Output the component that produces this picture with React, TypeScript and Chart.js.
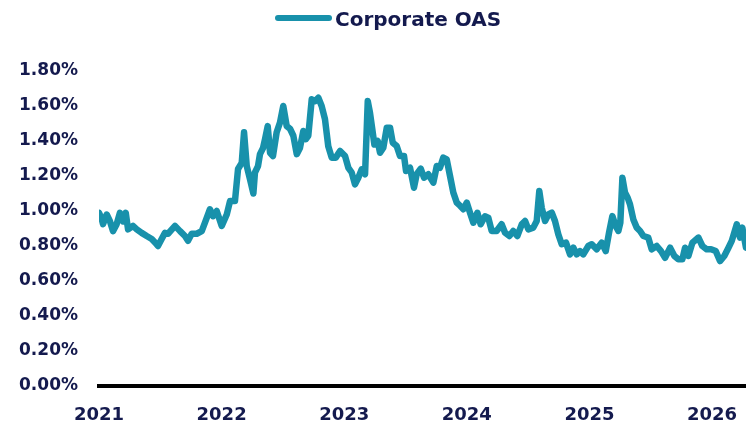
import React, { useEffect, useRef } from "react";
import { Chart, registerables } from "chart.js";

Chart.register(...registerables);

const seriesLabel = "Corporate OAS";

// decimal years
const years = [
  2021.000, 2021.022, 2021.033, 2021.063, 2021.090, 2021.114, 2021.144, 2021.171, 2021.196, 2021.218,
  2021.237, 2021.277, 2021.308, 2021.348, 2021.389, 2021.430, 2021.457, 2021.481, 2021.511, 2021.538,
  2021.563, 2021.620, 2021.661, 2021.701, 2021.726, 2021.756, 2021.797, 2021.838, 2021.865, 2021.905,
  2021.930,
  2021.960, 2022.001, 2022.042, 2022.069, 2022.109, 2022.134, 2022.164, 2022.183, 2022.205, 2022.232,
  2022.259, 2022.272, 2022.297, 2022.313, 2022.338, 2022.354, 2022.376, 2022.395, 2022.419, 2022.449,
  2022.476, 2022.503, 2022.531, 2022.558, 2022.585, 2022.613, 2022.639, 2022.666, 2022.686, 2022.707,
  2022.735, 2022.762, 2022.789, 2022.816, 2022.843, 2022.870, 2022.898, 2022.931,
  2022.966, 2023.007, 2023.034, 2023.061, 2023.088, 2023.115, 2023.143, 2023.170, 2023.192, 2023.210,
  2023.229, 2023.246, 2023.273, 2023.292, 2023.319, 2023.347, 2023.374, 2023.396, 2023.428, 2023.455,
  2023.488, 2023.504, 2023.537, 2023.569, 2023.591, 2023.624, 2023.651, 2023.686, 2023.727, 2023.755,
  2023.781, 2023.808, 2023.836, 2023.863, 2023.890, 2023.918, 2023.945, 2023.972,
  2024.000, 2024.026, 2024.053, 2024.086, 2024.113, 2024.148, 2024.175, 2024.203, 2024.243, 2024.284,
  2024.312, 2024.347, 2024.379, 2024.412, 2024.448, 2024.475, 2024.502, 2024.542, 2024.570, 2024.591,
  2024.611, 2024.638, 2024.665, 2024.693, 2024.719, 2024.746, 2024.774, 2024.809, 2024.842, 2024.869,
  2024.896, 2024.923, 2024.950, 2024.991,
  2025.019, 2025.059, 2025.100, 2025.133, 2025.160, 2025.187, 2025.214, 2025.236, 2025.252, 2025.269,
  2025.290, 2025.312, 2025.331, 2025.358, 2025.386, 2025.413, 2025.440, 2025.480, 2025.508, 2025.549,
  2025.584, 2025.617, 2025.658, 2025.693, 2025.725, 2025.758, 2025.780, 2025.807, 2025.840, 2025.889,
  2025.921, 2025.957, 2025.992, 2026.030, 2026.065, 2026.100, 2026.134, 2026.161, 2026.202, 2026.228,
  2026.247, 2026.277,
];

// OAS in percent
const oasValues = [
  0.99, 0.955, 0.925, 0.98, 0.94, 0.885, 0.925, 0.99, 0.94, 0.99,
  0.895, 0.915, 0.895, 0.875, 0.857, 0.84, 0.82, 0.80, 0.84, 0.875,
  0.87, 0.915, 0.885, 0.857, 0.83, 0.87, 0.87, 0.885, 0.935, 1.01,
  0.97,
  1.00, 0.915, 0.98, 1.057, 1.057, 1.24, 1.275, 1.45, 1.257, 1.18,
  1.10, 1.22, 1.257, 1.325, 1.36, 1.41, 1.485, 1.333, 1.314, 1.45,
  1.505, 1.60, 1.485, 1.47, 1.43, 1.325, 1.36, 1.457, 1.41, 1.43,
  1.638, 1.628, 1.647, 1.60, 1.525, 1.37, 1.305, 1.305,
  1.343, 1.314, 1.247, 1.22, 1.152, 1.19, 1.238, 1.21, 1.628, 1.562,
  1.467, 1.38, 1.40, 1.333, 1.362, 1.476, 1.476, 1.39, 1.371, 1.314,
  1.314, 1.229, 1.247, 1.133, 1.21, 1.242, 1.19, 1.21, 1.162, 1.257,
  1.247, 1.305, 1.295, 1.20, 1.105, 1.048, 1.03, 1.01,
  1.048, 0.99, 0.933, 0.99, 0.924, 0.97, 0.962, 0.886, 0.886, 0.924,
  0.876, 0.857, 0.886, 0.857, 0.924, 0.943, 0.895, 0.905, 0.943, 1.114,
  1.019, 0.943, 0.98, 0.99, 0.943, 0.867, 0.81, 0.819, 0.752, 0.79,
  0.752, 0.771, 0.752, 0.80,
  0.81, 0.781, 0.819, 0.771, 0.876, 0.971, 0.914, 0.886, 0.933, 1.19,
  1.105, 1.076, 1.038, 0.952, 0.905, 0.886, 0.857, 0.848, 0.781, 0.80,
  0.771, 0.733, 0.79, 0.743, 0.724, 0.724, 0.79, 0.743, 0.819, 0.848,
  0.80, 0.781, 0.781, 0.771, 0.714, 0.743, 0.79, 0.829, 0.924, 0.848,
  0.905, 0.79,
];

const yearTicks = [2021, 2022, 2023, 2024, 2025, 2026];
const yMin = 0;
const yMax = 1.8;
const yStep = 0.2;

const LINE_COLOR = "#1891ab";
const NAVY = "#141a4e";
const FONT = "'DejaVu Sans', sans-serif";

const legendPlugin = {
  id: "customLegend",
  afterDraw(chart: any) {
    const ctx = chart.ctx;
    const ds = chart.data.datasets[0];
    ctx.save();
    ctx.strokeStyle = ds.borderColor;
    ctx.lineWidth = 6;
    ctx.lineCap = "round";
    ctx.beginPath();
    ctx.moveTo(278, 18);
    ctx.lineTo(329, 18);
    ctx.stroke();
    ctx.font = `bold 20px ${FONT}`;
    ctx.fillStyle = NAVY;
    ctx.textAlign = "left";
    ctx.textBaseline = "alphabetic";
    ctx.fillText(ds.label, 335, 26);
    ctx.restore();
  },
};

export default function App() {
  const ref = useRef<HTMLCanvasElement | null>(null);

  useEffect(() => {
    if (!ref.current) return;
    const chart = new Chart(ref.current, {
      type: "line",
      data: {
        datasets: [
          {
            label: seriesLabel,
            data: years.map((x, i) => ({ x, y: oasValues[i] })),
            borderColor: LINE_COLOR,
            backgroundColor: LINE_COLOR,
            borderWidth: 6.5,
            pointRadius: 0,
            tension: 0,
            borderJoinStyle: "round",
            borderCapStyle: "round",
            fill: false,
          },
        ],
      },
      options: {
        animation: false,
        responsive: false,
        devicePixelRatio: 1,
        layout: { padding: { top: 71, right: 0, bottom: 2, left: 0 } },
        plugins: {
          legend: { display: false },
          tooltip: { enabled: false },
        },
        scales: {
          x: {
            type: "linear",
            min: years[0],
            max: years[years.length - 1],
            grid: { display: false, drawTicks: false },
            border: { display: true, color: "#000000", width: 4 },
            afterBuildTicks: (s: any) => {
              s.ticks = yearTicks.map((v) => ({ value: v }));
            },
            afterFit: (s: any) => {
              s.height = 38;
              s.paddingLeft = 0;
              s.paddingRight = 0;
            },
            ticks: {
              padding: 20,
              color: NAVY,
              font: { family: FONT, size: 18, weight: "bold", lineHeight: 1 },
              maxRotation: 0,
              autoSkip: false,
              callback: (v: any) => String(v),
            },
          },
          y: {
            min: yMin,
            max: yMax,
            grid: { display: false, drawTicks: false },
            border: { display: false },
            afterFit: (s: any) => {
              s.width = 99;
              s.paddingTop = 0;
              s.paddingBottom = 0;
            },
            ticks: {
              stepSize: yStep,
              padding: 21,
              color: NAVY,
              font: { family: FONT, size: 17, weight: "bold" },
              callback: (v: any) => Number(v).toFixed(2) + "%",
            },
          },
        },
      },
      plugins: [legendPlugin],
    });
    return () => chart.destroy();
  }, []);

  return (
    <div style={{ position: "fixed", left: 0, top: 0, width: 746, height: 426, background: "#fff" }}>
      <canvas ref={ref} width={746} height={426} />
    </div>
  );
}
